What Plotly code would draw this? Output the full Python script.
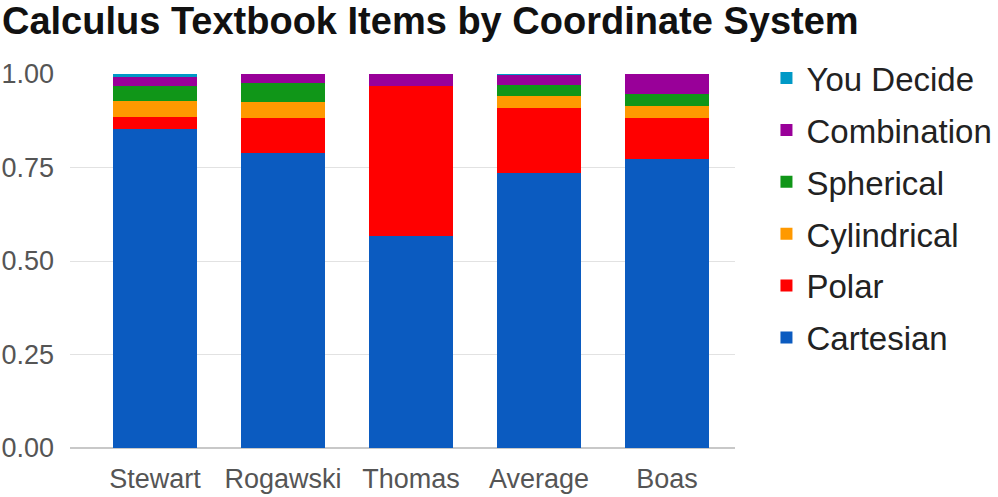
import plotly.graph_objects as go

books = ["Stewart", "Rogawski", "Thomas", "Average", "Boas"]

# share of items per coordinate system
cartesian = [0.853, 0.788, 0.567, 0.734, 0.772]
polar = [0.033, 0.094, 0.401, 0.174, 0.110]
cylindrical = [0.043, 0.043, 0.0, 0.033, 0.033]
spherical = [0.039, 0.051, 0.0, 0.029, 0.032]
combination = [0.025, 0.025, 0.032, 0.029, 0.053]
you_decide = [0.007, 0.0, 0.0, 0.002, 0.0]

series = [
    ("Cartesian", cartesian, "#0b5bc0"),
    ("Polar", polar, "#ff0000"),
    ("Cylindrical", cylindrical, "#ff9900"),
    ("Spherical", spherical, "#109618"),
    ("Combination", combination, "#990099"),
    ("You Decide", you_decide, "#0099c6"),
]

font = "Liberation Sans, Arial, sans-serif"

fig = go.Figure()
for i, (name, vals, col) in enumerate(series):
    fig.add_trace(go.Bar(
        x=books, y=vals, name=name, legendgroup=name,
        legendrank=len(series) - i,  # top of stack listed first
        marker=dict(color=col, line=dict(width=0)),
    ))

fig.update_layout(
    width=998, height=497,
    barmode="stack", bargap=0.35,
    plot_bgcolor="white", paper_bgcolor="white",
    margin=dict(l=70, r=263, t=74, b=49, autoexpand=False),
    font=dict(family=font, size=27, color="#555555"),
    title=dict(
        text="<b>Calculus Textbook Items by Coordinate System</b>",
        x=0.002, xref="container", xanchor="left",
        y=0.986, yref="container", yanchor="top",
        font=dict(family=font, size=38, color="#111111"),
    ),
    legend=dict(
        x=0.768, xref="container", xanchor="left",
        y=1.064, yanchor="top",
        traceorder="grouped", tracegroupgap=6, maxheight=400,
        font=dict(family=font, size=33, color="#222222"),
        itemwidth=30,
    ),
)

fig.update_xaxes(
    range=[-0.664, 4.531], showgrid=False, showline=False,
    ticklabelstandoff=12, automargin=False,
)
fig.update_yaxes(
    range=[0, 1], tickvals=[0, 0.25, 0.5, 0.75, 1.0],
    tickformat=".2f", gridcolor="#e2e2e2", gridwidth=1,
    zeroline=True, zerolinecolor="#c8c8c8", zerolinewidth=2,
    ticklabelstandoff=15, automargin=False,
)

# drop the default body margin so the figure sits flush in the window
fig.write_html(
    "out.html",
    config={"displayModeBar": False},
    post_script="document.body.style.margin='0';",
)
